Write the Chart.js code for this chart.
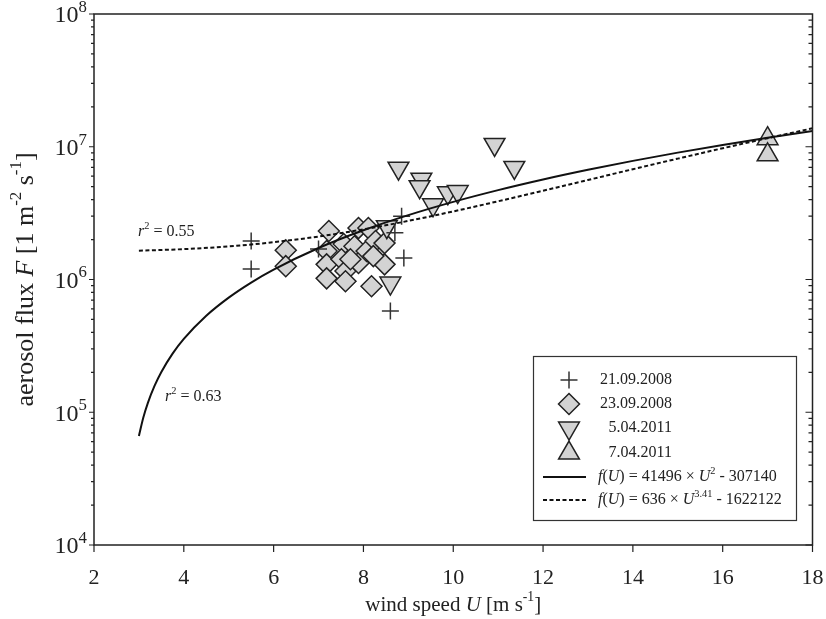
<!DOCTYPE html>
<html>
<head>
<meta charset="utf-8">
<style>
  body { margin: 0; background: #fff; }
  canvas { display: block; }
</style>
</head>
<body>
<canvas id="fluxChart" width="826" height="619"></canvas>
<script src="https://cdn.jsdelivr.net/npm/chart.js@4.4.1/dist/chart.umd.min.js"></script>
<script>
// wind speed U [m/s] vs aerosol flux F [1/(m2 s)]
const crossU = [5.5, 5.5, 7.0, 8.85, 8.9, 8.6, 8.7];
const crossF = [1.95e6, 1.2e6, 1.7e6, 3.0e6, 1.45e6, 5.8e5, 2.25e6];

const diamondU = [6.27, 6.27, 7.23, 7.18, 7.18, 7.18, 7.56, 7.51, 7.6, 7.6, 7.89, 8.11, 7.8, 7.89, 8.07, 8.27, 8.47, 8.47, 8.18, 7.71, 8.22];
const diamondF = [1.66e6, 1.26e6, 2.32e6, 1.64e6, 1.3e6, 1.02e6, 1.85e6, 1.42e6, 1.16e6, 9.7e5, 2.44e6, 2.44e6, 1.78e6, 1.33e6, 1.64e6, 1.95e6, 1.88e6, 1.3e6, 8.9e5, 1.42e6, 1.5e6];

const downU = [8.78, 9.29, 9.25, 9.55, 9.88, 10.1, 10.92, 11.36, 8.52, 8.6];
const downF = [6.9e6, 5.7e6, 5.0e6, 3.65e6, 4.5e6, 4.6e6, 1.04e7, 6.98e6, 2.5e6, 9.4e5];

const upU = [17.0, 17.0];
const upF = [1.15e7, 8.7e6];

// fitted curves as they appear in the plot
const solidU = [3, 3.1, 3.2, 3.35, 3.5, 3.75, 4, 4.5, 5, 5.5, 6, 7, 8, 9, 10, 11, 12, 13, 14, 15, 16, 17, 18];
const solidF = [66300, 91600, 117800, 158500, 201200, 276400, 356800, 533200, 730300, 948100, 1186700, 1726200, 2348600, 3054000, 3842500, 4713900, 5668300, 6705700, 7826100, 9029500, 10315800, 11685200, 13137600];
const dashU = [3, 4, 5, 6, 7, 8, 9, 10, 11, 12, 13, 14, 15, 16, 17, 18];
const dashF = [1649000, 1694000, 1776000, 1909000, 2107000, 2386000, 2763000, 3257000, 3884000, 4665000, 5620000, 6771000, 8138000, 9742000, 11605000, 13766000];

const xTicks = [2, 4, 6, 8, 10, 12, 14, 16, 18];
const yPowers = [4, 5, 6, 7, 8];
const legendDates = ["21.09.2008", "23.09.2008", "5.04.2011", "7.04.2011"];

const SERIF = "'Liberation Serif', 'Times New Roman', serif";
const INK = "#222";
const FILL = "#d3d3d3";

function pts(us, fs) {
  return us.map((u, i) => ({ x: u, y: fs[i] }));
}

// text pieces with italic / superscript parts
function runsWidth(ctx, runs, size, supScale) {
  let w = 0;
  runs.forEach(r => {
    const s = r.sup ? size * supScale : size;
    ctx.font = (r.it ? "italic " : "") + s + "px " + SERIF;
    w += ctx.measureText(r.t).width;
  });
  return w;
}
function drawRuns(ctx, runs, x, y, size, align, supScale = 0.65) {
  const w = runsWidth(ctx, runs, size, supScale);
  let cx = align === "center" ? x - w / 2 : align === "right" ? x - w : x;
  ctx.textAlign = "left";
  ctx.textBaseline = "middle";
  runs.forEach(r => {
    const s = r.sup ? size * supScale : size;
    ctx.font = (r.it ? "italic " : "") + s + "px " + SERIF;
    ctx.fillText(r.t, cx, r.sup ? y - size * 0.35 : y);
    cx += ctx.measureText(r.t).width;
  });
}

function mark(ctx, kind, x, y) {
  ctx.save();
  ctx.strokeStyle = kind === "cross" ? "#333" : INK;
  ctx.fillStyle = FILL;
  ctx.lineWidth = 1.5;
  ctx.beginPath();
  if (kind === "cross") {
    ctx.moveTo(x - 8.5, y); ctx.lineTo(x + 8.5, y);
    ctx.moveTo(x, y - 8.5); ctx.lineTo(x, y + 8.5);
    ctx.stroke();
  } else {
    if (kind === "diamond") {
      ctx.moveTo(x, y - 10.5); ctx.lineTo(x + 10.5, y); ctx.lineTo(x, y + 10.5); ctx.lineTo(x - 10.5, y);
    } else {
      const d = kind === "down" ? -1 : 1, r = 12;
      ctx.moveTo(x, y - d * r);
      ctx.lineTo(x + r * 0.866, y + d * r / 2);
      ctx.lineTo(x - r * 0.866, y + d * r / 2);
    }
    ctx.closePath();
    ctx.fill();
    ctx.stroke();
  }
  ctx.restore();
}

const decorations = {
  id: "decorations",
  afterDraw(chart) {
    const { ctx, chartArea: a, scales } = chart;
    const xs = scales.x, ys = scales.y;
    ctx.save();
    ctx.strokeStyle = INK;
    ctx.fillStyle = INK;
    ctx.lineWidth = 1.5;
    ctx.strokeRect(a.left, a.top, a.right - a.left, a.bottom - a.top);

    // ticks: outward on left and bottom, inward on right
    ctx.lineWidth = 1.2;
    ctx.beginPath();
    xTicks.forEach(t => {
      const px = xs.getPixelForValue(t);
      ctx.moveTo(px, a.bottom); ctx.lineTo(px, a.bottom + 7);
    });
    for (let p = 4; p < 8; p++) {
      for (let m = 1; m <= 9; m++) {
        const py = ys.getPixelForValue(m * Math.pow(10, p));
        const major = m === 1;
        ctx.moveTo(a.left, py); ctx.lineTo(a.left - (major ? 5 : 3), py);
        ctx.moveTo(a.right, py); ctx.lineTo(a.right - (major ? 7 : 4), py);
      }
    }
    const topY = ys.getPixelForValue(1e8);
    ctx.moveTo(a.left, topY); ctx.lineTo(a.left - 5, topY);
    ctx.stroke();

    // tick labels
    xTicks.forEach(t => {
      drawRuns(ctx, [{ t: String(t) }], xs.getPixelForValue(t), a.bottom + 33, 22, "center");
    });
    yPowers.forEach(p => {
      drawRuns(ctx, [{ t: "10" }, { t: String(p), sup: true }], a.left - 7, ys.getPixelForValue(Math.pow(10, p)) + 2, 24, "right", 0.7);
    });

    // axis titles
    drawRuns(ctx, [{ t: "wind speed " }, { t: "U", it: true }, { t: " [m s" }, { t: "-1", sup: true }, { t: "]" }],
      (a.left + a.right) / 2, 605, 21, "center");
    ctx.save();
    ctx.translate(26, (a.top + a.bottom) / 2);
    ctx.rotate(-Math.PI / 2);
    drawRuns(ctx, [{ t: "aerosol flux " }, { t: "F", it: true }, { t: " [1 m" }, { t: "-2", sup: true }, { t: " s" }, { t: "-1", sup: true }, { t: "]" }],
      0, 0, 26, "center");
    ctx.restore();

    // r² annotations
    drawRuns(ctx, [{ t: "r", it: true }, { t: "2", sup: true }, { t: " = 0.55" }], 138, 232, 16, "left");
    drawRuns(ctx, [{ t: "r", it: true }, { t: "2", sup: true }, { t: " = 0.63" }], 165, 397, 16, "left");

    // legend
    ctx.lineWidth = 1.2;
    ctx.strokeStyle = "#333";
    ctx.strokeRect(533.5, 356.5, 263, 164);
    const rows = [380, 404, 428, 453, 477, 500];
    ["cross", "diamond", "down", "up"].forEach((k, i) => {
      mark(ctx, k, 569, rows[i]);
      drawRuns(ctx, [{ t: legendDates[i] }], 672, rows[i], 16, "right");
    });
    ctx.strokeStyle = "#111";
    ctx.lineWidth = 2;
    ctx.beginPath();
    ctx.moveTo(543, rows[4]); ctx.lineTo(586, rows[4]);
    ctx.stroke();
    ctx.setLineDash([4, 2.5]);
    ctx.beginPath();
    ctx.moveTo(543, rows[5]); ctx.lineTo(586, rows[5]);
    ctx.stroke();
    ctx.setLineDash([]);
    drawRuns(ctx, [{ t: "f", it: true }, { t: "(" }, { t: "U", it: true }, { t: ") = 41496 × " }, { t: "U", it: true }, { t: "2", sup: true }, { t: " - 307140" }], 598, rows[4], 16, "left");
    drawRuns(ctx, [{ t: "f", it: true }, { t: "(" }, { t: "U", it: true }, { t: ") = 636 × " }, { t: "U", it: true }, { t: "3.41", sup: true }, { t: " - 1622122" }], 598, rows[5], 16, "left");
    ctx.restore();
  }
};

const scatterStyle = {
  showLine: false,
  backgroundColor: FILL,
  borderColor: INK,
  borderWidth: 1.5,
  pointBorderWidth: 1.5
};

new Chart(document.getElementById("fluxChart"), {
  type: "scatter",
  data: {
    datasets: [
      {
        label: "f(U) = 41496 × U² - 307140",
        data: pts(solidU, solidF),
        showLine: true,
        borderColor: "#111",
        borderWidth: 2,
        pointRadius: 0,
        cubicInterpolationMode: "monotone",
        order: 0
      },
      {
        label: "f(U) = 636 × U^3.41 - 1622122",
        data: pts(dashU, dashF),
        showLine: true,
        borderColor: "#111",
        borderWidth: 2,
        borderDash: [4, 2.5],
        pointRadius: 0,
        cubicInterpolationMode: "monotone",
        order: 0
      },
      { label: "21.09.2008", data: pts(crossU, crossF), pointStyle: "cross", pointRadius: 8.5, borderColor: "#333", borderWidth: 1.5, showLine: false, order: 1 },
      Object.assign({ label: "5.04.2011", data: pts(downU, downF), pointStyle: "triangle", rotation: 180, pointRadius: 12, order: 2 }, scatterStyle),
      Object.assign({ label: "23.09.2008", data: pts(diamondU, diamondF), pointStyle: "rectRot", pointRadius: 10.5, order: 3 }, scatterStyle),
      Object.assign({ label: "7.04.2011", data: pts(upU, upF), pointStyle: "triangle", pointRadius: 12, order: 4 }, scatterStyle)
    ]
  },
  options: {
    responsive: false,
    animation: false,
    devicePixelRatio: 1,
    layout: { padding: { top: 14, right: 10, left: 0, bottom: 0 } },
    plugins: { legend: { display: false }, tooltip: { enabled: false } },
    scales: {
      x: {
        type: "linear",
        min: 2,
        max: 18,
        grid: { display: false, drawTicks: false },
        border: { display: false },
        ticks: { display: false, stepSize: 2 },
        afterFit(scale) { scale.height = 74; }
      },
      y: {
        type: "logarithmic",
        min: 1e4,
        max: 1e8,
        grid: { display: false, drawTicks: false },
        border: { display: false },
        ticks: { display: false },
        afterFit(scale) { scale.width = 94; }
      }
    }
  },
  plugins: [decorations]
});
</script>
</body>
</html>
